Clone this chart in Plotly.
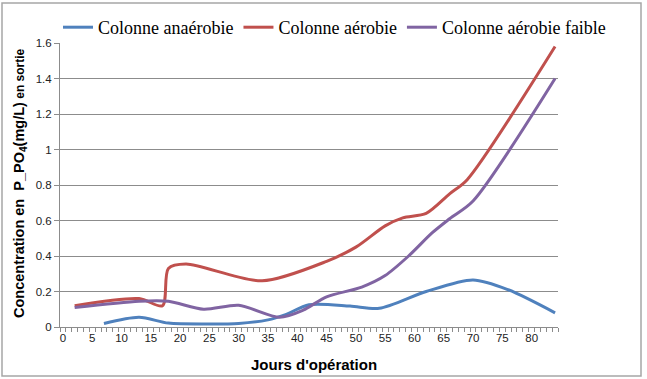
import plotly.graph_objects as go

# ---- data ----
days_anaerobie = [7, 13, 18, 25, 30, 35, 38, 42, 49, 54, 62, 70, 76, 84]
vals_anaerobie = [0.02, 0.055, 0.022, 0.017, 0.02, 0.04, 0.07, 0.125, 0.118, 0.105, 0.2, 0.265, 0.21, 0.08]

days_aerobie = [2, 13, 17, 18, 21, 34, 45, 50, 55, 58, 62, 66, 69, 84]
vals_aerobie = [0.12, 0.16, 0.12, 0.33, 0.355, 0.26, 0.37, 0.45, 0.57, 0.615, 0.64, 0.75, 0.83, 1.58]

days_faible = [2, 13, 18, 24, 30, 37, 41, 45, 51, 55, 59, 63, 66, 70, 84]
vals_faible = [0.11, 0.145, 0.145, 0.10, 0.122, 0.055, 0.095, 0.17, 0.225, 0.29, 0.40, 0.53, 0.61, 0.71, 1.40]

series_names = ["Colonne anaérobie", "Colonne aérobie", "Colonne aérobie faible"]
series_colors = ["#4F81BD", "#C0504D", "#8064A2"]

x_tick_values = list(range(0, 81, 5))
y_tick_values = [0, 0.2, 0.4, 0.6, 0.8, 1.0, 1.2, 1.4, 1.6]
y_tick_labels = ["0", "0.2", "0.4", "0.6", "0.8", "1", "1.2", "1.4", "1.6"]

x_title = "Jours d'opération"
y_title = ("Concentration en  P_PO<sub>4</sub>(mg/L)"
           "<span style='font-size:12px'> en sortie</span>")

fig = go.Figure()
for d, v, n, c in zip([days_anaerobie, days_aerobie, days_faible],
                      [vals_anaerobie, vals_aerobie, vals_faible],
                      series_names, series_colors):
    fig.add_trace(go.Scatter(x=d, y=v, name=n, mode="lines",
                             line=dict(color=c, width=3, shape="spline", smoothing=0.8)))

W, H = 647, 379
L, R, T, B = 60, 89, 43, 52
pw, ph = W - L - R, H - T - B

def px_x(x):
    return (x - L) / pw

def px_y(y):
    return (H - B - y) / ph

serif = "Liberation Serif, Times New Roman, Tinos, DejaVu Serif, serif"
grid_col = "#8c8c8c"
fig.update_layout(
    width=W, height=H,
    margin=dict(l=L, r=R, t=T, b=B, autoexpand=False),
    paper_bgcolor="white", plot_bgcolor="white",
    showlegend=True,
    legend=dict(orientation="h", x=px_x(58), y=px_y(9), xanchor="left", yanchor="top",
                font=dict(family=serif, size=18, color="black"),
                bgcolor="rgba(0,0,0,0)", itemwidth=30),
    xaxis=dict(range=[-0.5, 84.5], tickmode="array", tickvals=x_tick_values,
               ticks="", showgrid=False, zeroline=False,
               showline=True, linecolor=grid_col, linewidth=1,
               tickfont=dict(family="Liberation Sans", size=11.5, color="#222"),
               minor=dict(ticks="outside", tick0=-0.5, dtick=1, ticklen=4,
                          tickcolor=grid_col, tickwidth=1, showgrid=False),
               fixedrange=True),
    yaxis=dict(range=[0, 1.6], tickmode="array", tickvals=y_tick_values, ticktext=y_tick_labels,
               ticks="outside", ticklen=5, tickcolor=grid_col,
               showgrid=True, gridcolor=grid_col, gridwidth=1, zeroline=False,
               showline=True, linecolor=grid_col, linewidth=1,
               tickfont=dict(family="Liberation Sans", size=11.5, color="#222"),
               fixedrange=True),
)

fig.add_annotation(text=x_title, xref="paper", yref="paper", x=px_x(314), y=px_y(364),
                   showarrow=False, xanchor="center", yanchor="middle",
                   font=dict(family="Liberation Sans", size=15, color="black", weight="bold"))
fig.add_annotation(text=y_title, xref="paper", yref="paper", x=px_x(20), y=px_y(183),
                   showarrow=False, textangle=-90, xanchor="center", yanchor="middle",
                   font=dict(family="Liberation Sans", size=14.5, color="black", weight="bold"))

fig.add_shape(type="rect", xref="paper", yref="paper",
              x0=px_x(2), x1=px_x(641), y0=px_y(376), y1=px_y(3),
              line=dict(color="#a6a6a6", width=1.5), layer="below")

fig.write_html("out.html")
